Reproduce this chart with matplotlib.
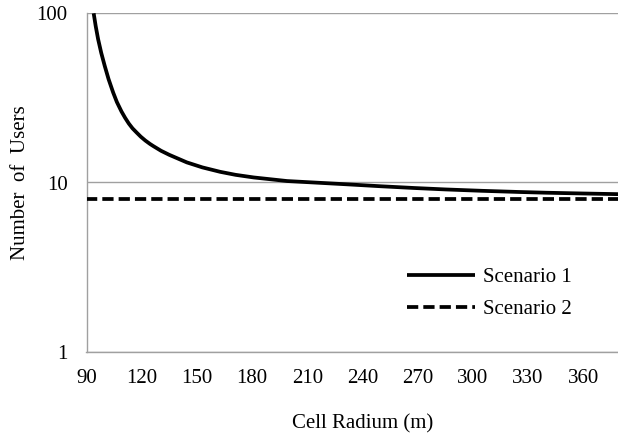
import matplotlib
matplotlib.use("Agg")
import matplotlib.pyplot as plt

# Data
radius_s1 = [93.9, 95, 96.3, 98, 99.9, 102, 104.5, 106.5, 109, 111, 113, 115,
             117.3, 119.5, 122, 124.5, 126.4, 130.5, 135, 144.5, 153, 162.7, 171,
             180.9, 199, 215, 232, 250, 268, 285, 305, 325, 340, 360, 380, 390]
users_s1 = [100, 84, 70.4, 58.4, 48.9, 40.8, 34.0, 29.9, 26.3, 24.1, 22.3, 20.9,
            19.7, 18.65, 17.69, 16.9, 16.39, 15.4, 14.57, 13.15, 12.28, 11.56, 11.1,
            10.71, 10.2, 9.98, 9.75, 9.5, 9.28, 9.1, 8.93, 8.79, 8.70, 8.61, 8.53, 8.5]
radius_s2 = [90, 390]
users_s2 = [8.0, 8.0]

x_ticks = [90, 120, 150, 180, 210, 240, 270, 300, 330, 360]
y_ticks = [1, 10, 100]
y_tick_labels = ["1", "10", "100"]

plt.rcParams['font.family'] = ['Liberation Serif', 'DejaVu Serif']
FS = 15
GRAY = '#a0a0a0'

fig = plt.figure(figsize=(6.18, 4.40), dpi=100)
left_px, right_px, top_px, bot_px = 86.5, 638.5, 13.3, 351.7
W, H = 618, 440
ax = fig.add_axes([left_px / W, 1 - bot_px / H, (right_px - left_px) / W, (bot_px - top_px) / H])

ax.plot(radius_s1, users_s1, color='black', lw=2.7, solid_capstyle='butt',
        solid_joinstyle='round', label='Scenario 1', zorder=3)
l2, = ax.plot(radius_s2, users_s2, color='black', lw=2.7, label='Scenario 2', zorder=3)
l2.set_dashes([3.0, 1.35])
l2.set_dash_capstyle('butt')

ax.set_yscale('log')
ax.set_ylim(1, 100)
ax.set_xlim(90, 390)
ax.set_xticks(x_ticks)
ax.set_xticklabels([str(t) for t in x_ticks])
ax.set_yticks(y_ticks)
ax.set_yticklabels(y_tick_labels)
ax.yaxis.set_minor_locator(matplotlib.ticker.NullLocator())

ax.tick_params(axis='both', length=0, labelsize=FS)
ax.tick_params(axis='y', pad=13.5)
ax.tick_params(axis='x', pad=12.5)

ax.grid(axis='y', which='major', color=GRAY, lw=1.0)
ax.set_axisbelow(True)
for s in ['top', 'right']:
    ax.spines[s].set_visible(False)
for s in ['left', 'bottom']:
    ax.spines[s].set_color(GRAY)
    ax.spines[s].set_linewidth(1.0)

ax.set_xlabel('Cell Radium (m)', fontsize=FS, labelpad=19)
ax.set_ylabel('Number  of  Users', fontsize=FS, labelpad=5)

leg = ax.legend(loc='center left', bbox_to_anchor=(406.7 / W, 1 - 293.5 / H),
                bbox_transform=fig.transFigure, frameon=False, fontsize=FS,
                handlelength=3.3, handletextpad=0.35, borderpad=0, borderaxespad=0,
                labelspacing=0.6)

fig.savefig('out.png', dpi=100)
